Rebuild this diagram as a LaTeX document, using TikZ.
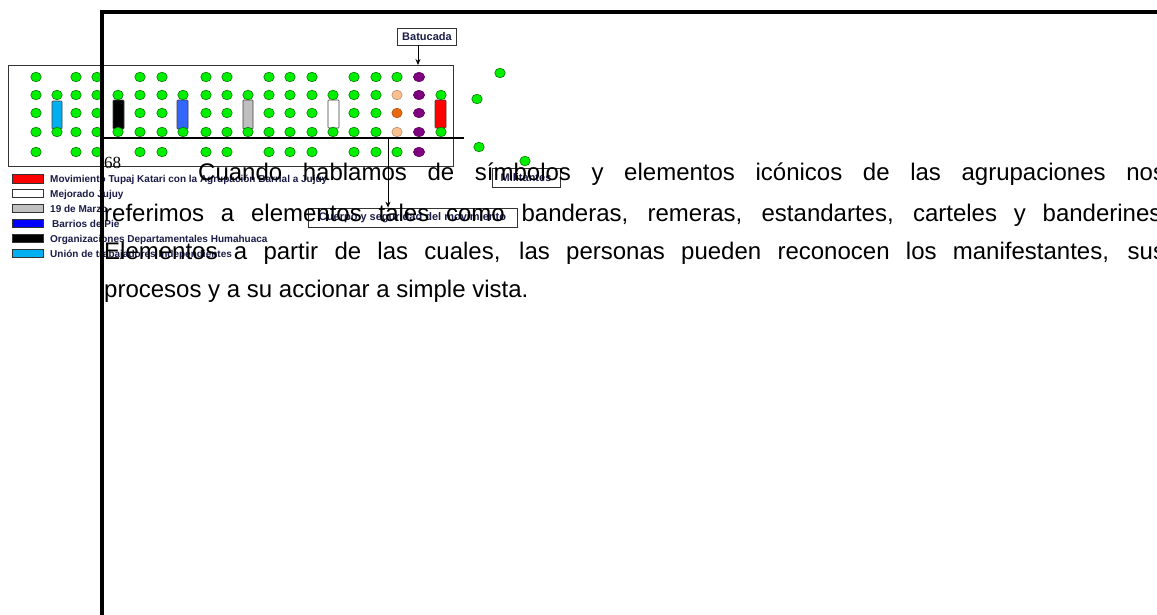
\documentclass[tikz,border=0pt]{standalone}
\usepackage{fontspec}
\setmainfont{Liberation Sans}
\newfontfamily\seriffont{Liberation Serif}
\usetikzlibrary{arrows.meta}
\definecolor{dotgreen}{HTML}{00EE00}
\definecolor{dotedge}{HTML}{007A00}
\definecolor{dotpurple}{HTML}{7F007F}
\definecolor{dotpeach}{HTML}{F9C08F}
\definecolor{dotorange}{HTML}{E86A10}
\definecolor{flagcyan}{HTML}{00B0F0}
\definecolor{flagblue}{HTML}{3366FF}
\definecolor{flaggray}{HTML}{BFBFBF}
\definecolor{legblue}{HTML}{0000FF}
\definecolor{leggray}{HTML}{C0C0C0}
\definecolor{legtextcol}{HTML}{1C1C48}
\begin{document}
\begin{tikzpicture}[x=1pt,y=-1pt,
  gdot/.style={fill=dotgreen,draw=dotedge,line width=0.6pt},
  cdot/.style={fill=#1,draw=#1!70!black,line width=0.5pt},
  flagbox/.style={draw=black!75,line width=0.6pt,rounded corners=0.8pt},
  swatch/.style={draw=black!80,line width=0.6pt},
  legtext/.style={anchor=base west,inner sep=0,text=legtextcol,font=\bfseries\fontsize{10}{12}\selectfont},
  labelbox/.style={draw=black!80,line width=0.6pt,inner sep=1pt,text=legtextcol,font=\bfseries\fontsize{11}{13}\selectfont},
  body/.style={anchor=base west,inner sep=0,font=\fontsize{24}{28}\selectfont},
  arr/.style={-{Stealth[length=6pt,width=5pt]},line width=0.8pt}]
\useasboundingbox (0,0) rectangle (1157,614);
\fill[white] (0,0) rectangle (1157,614);

% crowd rectangle
\node (crowd) [draw=black!80,line width=0.7pt,inner sep=0,minimum width=445pt,minimum height=101pt,anchor=north west] at (8,65) {};

% flags
\filldraw[flagbox,fill=flagcyan] (52,101) rectangle (62,129);
\filldraw[flagbox,fill=black] (113,100) rectangle (124,129);
\filldraw[flagbox,fill=flagblue] (177,100) rectangle (188,129);
\filldraw[flagbox,fill=flaggray] (243,100) rectangle (253,129);
\filldraw[flagbox,fill=white] (328,100) rectangle (339,128);
\filldraw[flagbox,fill=red] (435,100) rectangle (446,128);

% dots: full columns
\foreach \x in {36,76,97,140,162,206,227,269,290,312,354,376}{
  \foreach \y in {77,95,113,132,152}{
    \filldraw[gdot] (\x,\y) ellipse [x radius=5.2pt,y radius=4.8pt];}}
% flag columns
\foreach \x in {57,118,183,248,333,441}{
  \foreach \y in {95,132}{
    \filldraw[gdot] (\x,\y) ellipse [x radius=5.2pt,y radius=4.8pt];}}
% special column
\filldraw[gdot] (397,77) ellipse [x radius=5.2pt,y radius=4.8pt];
\filldraw[cdot=dotpeach] (397,95) ellipse [x radius=5.2pt,y radius=4.8pt];
\filldraw[cdot=dotorange] (397,113) ellipse [x radius=5.2pt,y radius=4.8pt];
\filldraw[cdot=dotpeach] (397,132) ellipse [x radius=5.2pt,y radius=4.8pt];
\filldraw[gdot] (397,152) ellipse [x radius=5.2pt,y radius=4.8pt];
\foreach \y in {77,95,113,132,152}{
  \filldraw[cdot=dotpurple] (419,\y) ellipse [x radius=5.6pt,y radius=4.8pt];}
% outside dots
\foreach \p in {(500,73),(477,99),(479,147),(525,161)}{
  \filldraw[gdot] \p ellipse [x radius=5.2pt,y radius=4.8pt];}

% legend
\filldraw[swatch,fill=red] (12,174) rectangle (43,183);
\filldraw[swatch,fill=white] (12,189) rectangle (43,197);
\filldraw[swatch,fill=leggray] (12,204) rectangle (43,212);
\filldraw[swatch,fill=legblue] (12,219) rectangle (43,227);
\filldraw[swatch,fill=black] (12,234) rectangle (43,242);
\filldraw[swatch,fill=flagcyan] (12,249) rectangle (43,257);
\node (lg1) [legtext] at (50,182) {Movimiento Tupaj Katari con la Agrupación Barrial a Jujuy};
\node (lg2) [legtext] at (50,197) {Mejorado Jujuy};
\node (lg3) [legtext] at (50,212) {19 de Marzo};
\node (lg4) [legtext] at (52,227) {Barrios de Pie};
\node (lg5) [legtext] at (50,242) {Organizaciones Departamentales Humahuaca};
\node (lg6) [legtext] at (50,257) {Unión de trabajadores Independientes};

% label boxes
\node (bat) [labelbox,minimum width=59pt,minimum height=17pt] at (427,36.5) {Batucada};
\node (sec) [labelbox,minimum width=209pt,minimum height=19pt] at (412.5,217.5) {Cuerpo y seguridad del movimiento};
\node (mil) [labelbox,minimum width=68pt,minimum height=19pt] at (526,177.5) {Militantes};

% horizontal line and connectors
\coordinate (hlA) at (103,138);
\coordinate (hlB) at (464,138);
\coordinate (hl) at (388,138);
\draw[line width=2pt] (hlA) -- (hlB);
\draw[arr] ([xshift=-9pt]bat.south) -- ([xshift=-9pt]bat.south |- crowd.north);
\draw[arr] (hl) -- (hl |- sec.north);

% page frame
\draw[line width=4pt] (102,616) -- (102,12) -- (1160,12);

% footnote mark and body text
\node (fn) [anchor=base west,inner sep=0,font=\seriffont\fontsize{17}{20}\selectfont] at (104,168) {68};
\node (l1) [body] at (198,180) {\hbox to 967pt{Cuando hablamos de símbolos y elementos icónicos de las agrupaciones nos}};
\node (l2) [body] at (104,221) {\hbox to 1064pt{referimos a elementos tales como banderas, remeras, estandartes, carteles y banderines.}};
\node (l3) [body] at (104,259) {\hbox to 1061pt{Elementos a partir de las cuales, las personas pueden reconocen los manifestantes, sus}};
\node (l4) [body] at (104,297) {procesos y a su accionar a simple vista.};
\end{tikzpicture}
\end{document}
